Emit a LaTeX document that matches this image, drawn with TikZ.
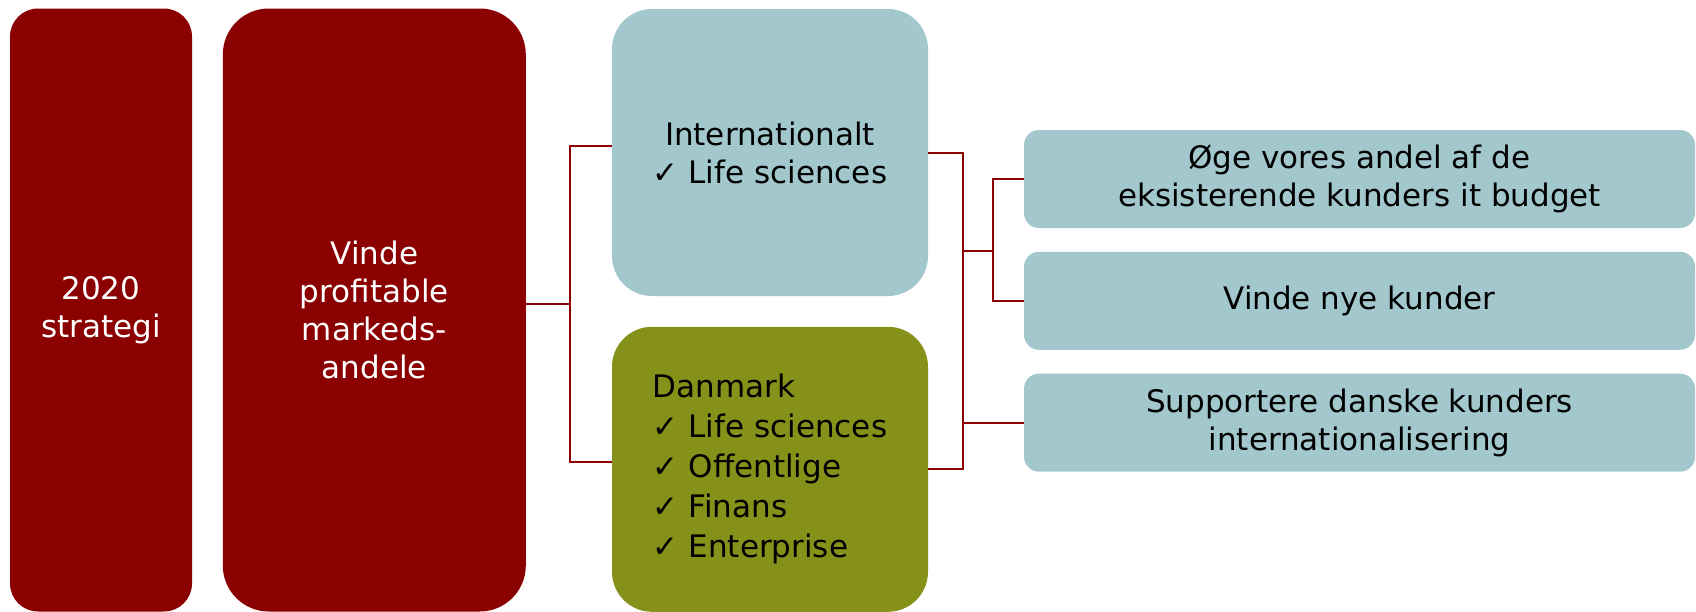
\documentclass[tikz,border=0pt]{standalone}
\usepackage{fontspec}
\setmainfont{DejaVu Sans}
\usepackage{tikz}
\usetikzlibrary{positioning}
\usepackage{xcolor}
\definecolor{stratred}{RGB}{139,0,0}
\definecolor{paleteal}{RGB}{162,199,204}
\definecolor{mossgreen}{RGB}{134,145,26}
\tikzstyle{pillar} = [rectangle, inner sep=0pt, text centered, align=center, fill=stratred, text=white, font=\fontsize{15.5pt}{19pt}\selectfont]
\tikzstyle{market} = [rectangle, inner sep=0pt, minimum width=158pt, rounded corners=20pt, align=center, font=\fontsize{15.5pt}{19pt}\selectfont]
\tikzstyle{goal} = [rectangle, inner sep=0pt, minimum width=335.5pt, minimum height=49pt, rounded corners=7.5pt, fill=paleteal, align=center, font=\fontsize{15.5pt}{19pt}\selectfont]
\tikzstyle{link} = [line width=1pt, color=stratred]

\begin{document}
\begin{tikzpicture}[x=0.5pt, y=-0.5pt, node distance=15pt]
\useasboundingbox (0,0) rectangle (1696,611);
% Strategy pillars
\node[pillar, minimum width=91pt, minimum height=301.5pt, rounded corners=14pt] (strat) at (101,310) {2020\\strategi};
\node[pillar, minimum width=151.5pt, minimum height=301.5pt, rounded corners=23pt, right=of strat] (vinde) {Vinde\\profitable\\markeds-\\andele};

% Markets
\node[market, minimum height=143.5pt, fill=paleteal] (intl) at (770,152.5) {Internationalt\\✓ Life sciences};
\node[market, minimum height=142.5pt, fill=mossgreen, align=left, font=\fontsize{15.5pt}{20pt}\selectfont, below=of intl] (dk) {Danmark\\✓ Life sciences\\✓ Offentlige\\✓ Finans\\✓ Enterprise};

% Goals
\node[goal] (goal1) at (1359.5,179) {Øge vores andel af de\\eksisterende kunders it budget};
\node[goal, below=11.5pt of goal1] (goal2) {Vinde nye kunder};
\node[goal, below=11.5pt of goal2] (goal3) {Supportere danske kunders\\internationalisering};

% Brackets
\coordinate (jL) at (570,304);
\coordinate (jR) at (963,251);
\coordinate (jS) at (993,251);
\draw[link] (vinde.east |- jL) -- (jL);
\draw[link] ([yshift=3.5pt]intl.west) -| (jL) |- ([yshift=3.5pt]dk.west);
\draw[link] (intl.east) -| (jR) |- (dk.east);
\draw[link] (jR) -- (jS);
\draw[link] (goal1.west) -| (jS) |- (goal2.west);
\draw[link] (jR |- goal3.west) -- (goal3.west);
\end{tikzpicture}
\end{document}
